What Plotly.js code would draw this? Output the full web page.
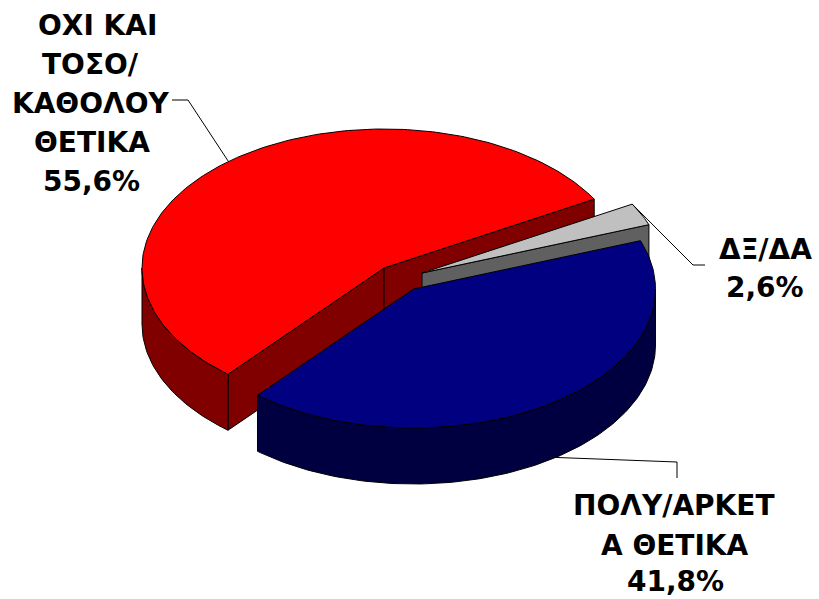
<!DOCTYPE html>
<html><head><meta charset="utf-8">
<script src="https://cdn.plot.ly/plotly-3.0.1.min.js"></script>
<style>html,body{margin:0;padding:0;background:#fff}#c{width:819px;height:599px}</style>
</head><body><div id="c"></div>
<script>
const categories = ["ΔΞ/ΔΑ", "ΠΟΛΥ/ΑΡΚΕΤΑ ΘΕΤΙΚΑ", "ΟΧΙ ΚΑΙ ΤΟΣΟ/ΚΑΘΟΛΟΥ ΘΕΤΙΚΑ"];
const shares = [2.6, 41.8, 55.6];
const topColors = ["#C0C0C0", "#000080", "#FF0000"];
const wallColors = ["#606060", "#000040", "#800000"];
const centres = [[422, 273], [413.5, 289], [384, 268]];
const labelLines = [
  [["ΔΞ/ΔΑ", 765, 249], ["2,6%", 765, 287]],
  [["ΠΟΛΥ/ΑΡΚΕΤ", 674, 505], ["Α ΘΕΤΙΚΑ", 675, 545], ["41,8%", 675, 581]],
  [["ΟΧΙ ΚΑΙ", 97, 25], ["ΤΟΣΟ/", 90, 64], ["ΚΑΘΟΛΟΥ", 90, 103], ["ΘΕΤΙΚΑ", 92, 142], ["55,6%", 91, 181]]
];
const startAngle = 60.3, rx = 242, ry = 139, depth = 56;

const pt = (c, t, dz) => {
  const a = t * Math.PI / 180;
  return [c[0] + rx * Math.sin(a), c[1] - ry * Math.cos(a) + (dz || 0)];
};
const arc = (c, a, b, dz) => {
  const out = [];
  const n = Math.max(2, Math.ceil(Math.abs(b - a)));
  for (let i = 0; i <= n; i++) out.push(pt(c, a + (b - a) * i / n, dz));
  return out;
};
const poly = (points, fill) => ({
  type: "scatter", mode: "lines", hoverinfo: "skip", showlegend: false,
  x: points.map(p => p[0]).concat(points[0][0]),
  y: points.map(p => p[1]).concat(points[0][1]),
  fill: "toself", fillcolor: fill, line: {color: "#000", width: 1}
});
const leader = points => ({
  type: "scatter", mode: "lines", hoverinfo: "skip", showlegend: false,
  x: points.map(p => p[0]), y: points.map(p => p[1]),
  line: {color: "#000", width: 1}
});

let a = startAngle;
const spans = shares.map(s => { const r = [a, a + s * 3.6]; a = r[1]; return r; });

const traces = [];
const drawOrder = [2, 0, 1];
drawOrder.forEach(i => {
  const c = centres[i], s = spans[i];
  const c2 = [c[0], c[1] + depth];
  [s[0], s[1]].forEach(t => {
    const facing = i === 1 ? false : (i === 0 ? t === s[1] : true);
    if (facing) traces.push(poly([c, pt(c, t), pt(c, t, depth), c2], wallColors[i]));
  });
  const lo = Math.max(s[0], 90), hi = Math.min(s[1], 270);
  if (hi > lo) traces.push(poly(arc(c, lo, hi, 0).concat(arc(c, hi, lo, depth)), wallColors[i]));
  traces.push(poly([c].concat(arc(c, s[0], s[1], 0)), topColors[i]));
});

traces.push(leader([pt(centres[2], 320), [188, 100], [172, 100]]));
traces.push(leader([pt(centres[1], 144, depth), [677, 462], [677, 478]]));
traces.push(leader([pt(centres[0], spans[0][0]), [693, 265], [705, 265]]));

const annotations = labelLines.flat().map(l => ({
  text: l[0], x: l[1], y: l[2], xref: "x", yref: "y",
  xanchor: "center", yanchor: "middle", showarrow: false,
  font: {family: "'DejaVu Sans', sans-serif", size: 28, color: "#000", weight: 700}
}));

Plotly.newPlot("c", traces, {
  width: 819, height: 599, margin: {l: 0, r: 0, t: 0, b: 0},
  paper_bgcolor: "#fff", plot_bgcolor: "#fff", showlegend: false,
  xaxis: {range: [0, 819], visible: false, fixedrange: true},
  yaxis: {range: [599, 0], visible: false, fixedrange: true},
  annotations
}, {displayModeBar: false, staticPlot: true});
</script></body></html>
